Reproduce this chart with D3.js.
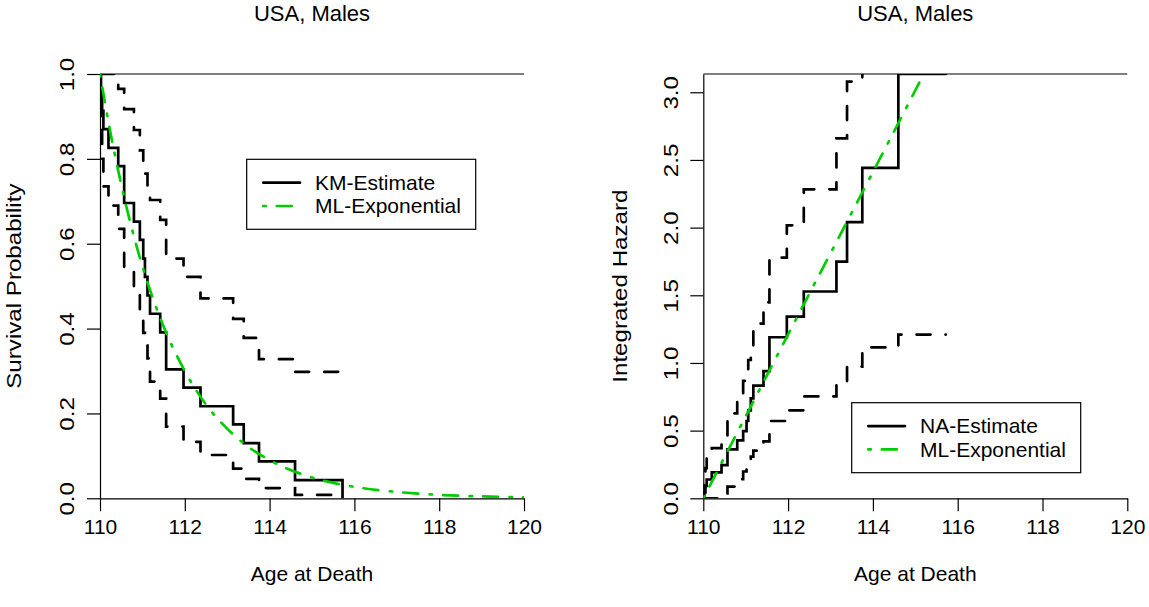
<!DOCTYPE html>
<html>
<head>
<meta charset="utf-8">
<script src="https://cdn.jsdelivr.net/npm/d3@7"></script>
<style>
body{margin:0;background:#fff;}
text{font-family:"Liberation Sans",Arial,sans-serif;fill:#000;}
</style>
</head>
<body>
<div class="chart"></div>
<script>
var width = 1149,
	height = 607;

// ages where the estimate steps down (last one: survival hits 0)
var deathAges = [110.02,110.05,110.08,110.2,110.43,110.57,110.8,110.94,111.02,111.06,111.12,111.18,111.42,111.56,111.97,112.37,113.14,113.39,113.75,114.6,115.72];
var kmSurv = [0.957,0.913,0.870,0.826,0.783,0.696,0.652,0.609,0.565,0.522,0.478,0.435,0.391,0.304,0.261,0.217,0.174,0.130,0.087,0.043,0.0];
var kmUpper = [1,1,1,1,0.965,0.917,0.868,0.82,0.79,0.765,0.735,0.703,0.656,0.565,0.522,0.471,0.423,0.378,0.328,0.298];
var kmLower = [0.87,0.80,0.735,0.69,0.635,0.534,0.49,0.42,0.39,0.36,0.33,0.275,0.235,0.169,0.133,0.102,0.070,0.046,0.024,0.008];
var naHaz = [0.044,0.091,0.139,0.191,0.245,0.362,0.428,0.496,0.571,0.650,0.738,0.833,0.939,1.190,1.343,1.528,1.749,2.040,2.442,3.135];
var naUpper = [0.139,0.223,0.308,0.371,0.454,0.627,0.713,0.868,0.942,1.022,1.109,1.291,1.448,1.778,2.017,2.283,2.659,3.079,3.73,4.83];
var naLower = [0,0,0,0,0.036,0.087,0.141,0.198,0.236,0.268,0.308,0.352,0.421,0.571,0.650,0.753,0.860,0.973,1.115,1.210];
var expAges = [110,110.25,110.5,110.75,111,111.5,112,112.5,113,113.5,114,115,116,117,118,119,120];
var expSurv = [1.0,0.86,0.74,0.636,0.547,0.405,0.30,0.221,0.164,0.121,0.090,0.049,0.027,0.015,0.008,0.0044,0.0024];
var hazAges = [110,112,114,116];
var hazLine = [0,1.21,2.41,3.62];
var ageTicks = [110,112,114,116,118,120];
var survTicks = [0,0.2,0.4,0.6,0.8,1.0];
var hazTicks = [0,0.5,1.0,1.5,2.0,2.5,3.0];

var green = "#00cd00";
var svg = d3.select(".chart").append("svg").attr("width", width).attr("height", height);

function stepPoints(start, vals){
	var pts = [[110, start]];
	vals.forEach(function(v, i){ pts.push([deathAges[i], v]); });
	if (vals.length < deathAges.length) pts.push([deathAges[vals.length], vals[vals.length-1]]);
	return pts;
}

function drawPanel(p){
	var x = d3.scaleLinear().domain([110,120]).range([p.left, p.left+424]);
	var y = d3.scaleLinear().domain([0,p.ymax]).range([498.3, 74]);
	var g = svg.append("g");

	g.append("clipPath").attr("id", p.id).append("rect")
		.attr("x", x(110)).attr("y", 74).attr("width", x(120)-x(110)).attr("height", 498.3-74);

	var xa = g.append("g").attr("transform", "translate(0,498.3)")
		.call(d3.axisBottom(x).tickValues(ageTicks).tickFormat(d3.format("d")).tickSize(13).tickSizeOuter(0).tickPadding(8));
	var ya = g.append("g").attr("transform", "translate("+x(110)+",0)")
		.call(d3.axisLeft(y).tickValues(p.ticks).tickFormat(d3.format(".1f")).tickSize(13).tickSizeOuter(0));
	xa.selectAll("text").attr("font-size", 21).attr("font-family", null).attr("dy", "0.71em");
	ya.selectAll(".tick text").remove();
	ya.selectAll(".tick").append("text")
		.attr("transform", "translate(-33,0) rotate(-90) scale(1.15,1)")
		.attr("text-anchor", "middle").attr("dy", "0.35em").attr("font-size", 21)
		.text(function(d){ return d3.format(".1f")(d); });
	g.selectAll(".domain, .tick line").attr("stroke", "#000").attr("stroke-width", 1.2);
	g.append("line").attr("x1", x(110)).attr("x2", x(120)).attr("y1", 74).attr("y2", 74)
		.attr("stroke", "#000").attr("stroke-width", 1.2);

	var line = d3.line().x(function(d){ return x(d[0]); }).y(function(d){ return y(d[1]); });
	var plot = g.append("g").attr("clip-path", "url(#"+p.id+")")
		.attr("fill", "none").attr("stroke-width", 2.7).attr("stroke-linecap", "round");
	p.bands.forEach(function(b){
		plot.append("path").attr("d", line.curve(d3.curveStepAfter)(b))
			.attr("stroke", "#000").attr("stroke-dasharray", "14 15");
	});
	plot.append("path").attr("d", line.curve(d3.curveStepAfter)(p.main)).attr("stroke", "#000");
	plot.append("path").attr("d", line.curve(d3.curveMonotoneX)(p.fit))
		.attr("stroke", green).attr("stroke-dasharray", "2.5 11 15 11.5");

	g.append("text").attr("x", x(115)).attr("y", 21).attr("text-anchor", "middle")
		.attr("font-size", 22).text("USA, Males");
	g.append("text").attr("x", x(115)).attr("y", 581).attr("text-anchor", "middle")
		.attr("font-size", 21).text("Age at Death");
	g.append("text").attr("transform", "translate("+p.ylabX+","+y(p.ymax/2)+") rotate(-90) scale(1.15,1)")
		.attr("text-anchor", "middle").attr("dy", "0.35em").attr("font-size", 21).text(p.ylab);

	var lg = g.append("g").attr("transform", "translate("+p.legX+","+p.legY+")");
	lg.append("rect").attr("width", 229).attr("height", 70).attr("fill", "#fff")
		.attr("stroke", "#000").attr("stroke-width", 1.2);
	lg.append("line").attr("x1", 16.6).attr("x2", 53.3).attr("y1", 23.4).attr("y2", 23.4)
		.attr("stroke", "#000").attr("stroke-width", 2.7).attr("stroke-linecap", "round");
	lg.append("line").attr("x1", 16.6).attr("x2", 53.3).attr("y1", 46.7).attr("y2", 46.7)
		.attr("stroke", green).attr("stroke-width", 2.7).attr("stroke-linecap", "round")
		.attr("stroke-dasharray", "2.5 11 15 11.5");
	lg.append("text").attr("x", 68.3).attr("y", 23.4).attr("dy", "0.35em").attr("font-size", 21).text(p.legText);
	lg.append("text").attr("x", 68.3).attr("y", 46.7).attr("dy", "0.35em").attr("font-size", 21).text("ML-Exponential");
}

drawPanel({
	id: "clipL", left: 100, ymax: 1, ticks: survTicks, ylab: "Survival Probability", ylabX: 14,
	main: stepPoints(1, kmSurv),
	bands: [stepPoints(1, kmUpper), stepPoints(1, kmLower)],
	fit: expAges.map(function(a, i){ return [a, expSurv[i]]; }),
	legX: 246.7, legY: 159.3, legText: "KM-Estimate"
});
drawPanel({
	id: "clipR", left: 703.3, ymax: 3.135, ticks: hazTicks, ylab: "Integrated Hazard", ylabX: 620,
	main: stepPoints(0, naHaz),
	bands: [stepPoints(0, naUpper), stepPoints(0, naLower)],
	fit: hazAges.map(function(a, i){ return [a, hazLine[i]]; }),
	legX: 851.7, legY: 402.7, legText: "NA-Estimate"
});
</script>
</body>
</html>
